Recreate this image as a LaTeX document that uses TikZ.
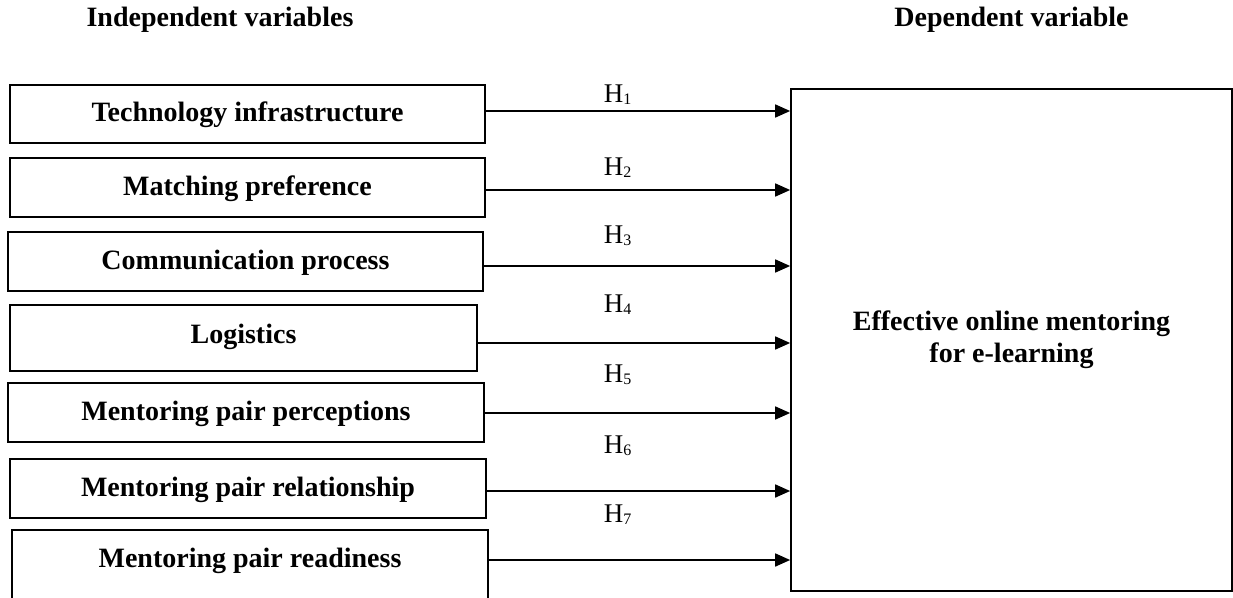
\documentclass[tikz,border=0pt]{standalone}
\usepackage{fontspec}
\setmainfont{Liberation Serif}
\usetikzlibrary{arrows.meta}
\newcommand{\hsub}[1]{H\raisebox{-2.5pt}{\fontsize{16}{16}\selectfont #1}}
\begin{document}
\begin{tikzpicture}[x=1pt,y=-1pt,
  ivbox/.style={draw, line width=1.7pt, inner sep=0pt, minimum height=59pt,
    font=\fontsize{28}{32}\selectfont\bfseries, text height=19pt, text depth=4pt},
  dvbox/.style={draw, line width=1.7pt, inner sep=0pt, align=center,
    minimum width=441pt, minimum height=502pt,
    font=\fontsize{28}{32}\selectfont\bfseries},
  hdr/.style={font=\fontsize{28}{32}\selectfont\bfseries, anchor=base, inner sep=0pt},
  hlab/.style={font=\fontsize{27}{30}\selectfont, anchor=base, inner sep=0pt},
  conn/.style={line width=1.7pt, -{Triangle[length=15pt,width=13pt]}}]
\useasboundingbox (0,0) rectangle (1233,597);
\clip (0,0) rectangle (1233,597);

% headers
\node[hdr] (ivh) at (220,27) {Independent variables};
\node[hdr] (dvh) at (1011.5,27) {Dependent variable};

% independent variable boxes
\node[ivbox, minimum width=475pt, minimum height=58pt] (v1) at (247.5,114) {Technology infrastructure};
\node[ivbox, minimum width=475pt] (v2) at (247.5,187.5) {Matching preference};
\node[ivbox, minimum width=475pt] (v3) at (245.5,261.5) {Communication process};
\node[ivbox, minimum width=467pt, minimum height=66pt, text depth=9pt] (v4) at (243.5,338) {Logistics};
\node[ivbox, minimum width=476pt] (v5) at (246,412.5) {Mentoring pair perceptions};
\node[ivbox, minimum width=476pt] (v6) at (248,488.5) {Mentoring pair relationship};
\node[ivbox, minimum width=476pt, minimum height=70pt, text depth=14pt] (v7) at (250,565) {Mentoring pair readiness};

% dependent variable box
\node[dvbox] (dv) at (1011.5,340) {Effective online mentoring\\for e-learning};

% connectors
\draw[conn] ([yshift=3pt]v1.east) -- ([yshift=3pt]v1.east -| dv.west);
\draw[conn] ([yshift=-2.5pt]v2.east) -- ([yshift=-2.5pt]v2.east -| dv.west);
\draw[conn] ([yshift=-4.5pt]v3.east) -- ([yshift=-4.5pt]v3.east -| dv.west);
\draw[conn] ([yshift=-5pt]v4.east) -- ([yshift=-5pt]v4.east -| dv.west);
\draw[conn] ([yshift=-0.5pt]v5.east) -- ([yshift=-0.5pt]v5.east -| dv.west);
\draw[conn] ([yshift=-2.5pt]v6.east) -- ([yshift=-2.5pt]v6.east -| dv.west);
\draw[conn] ([yshift=5pt]v7.east) -- ([yshift=5pt]v7.east -| dv.west);

% hypothesis labels
\node[hlab] (h1) at (617.5,102) {\hsub{1}};
\node[hlab] (h2) at (617.5,175) {\hsub{2}};
\node[hlab] (h3) at (617.5,243) {\hsub{3}};
\node[hlab] (h4) at (617.5,312) {\hsub{4}};
\node[hlab] (h5) at (617.5,382) {\hsub{5}};
\node[hlab] (h6) at (617.5,453) {\hsub{6}};
\node[hlab] (h7) at (617.5,522) {\hsub{7}};
\end{tikzpicture}
\end{document}
